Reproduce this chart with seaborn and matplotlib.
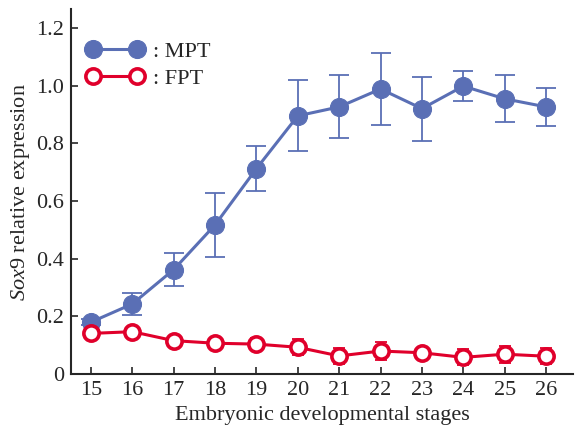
import pandas as pd
import seaborn as sns
import matplotlib
matplotlib.use("Agg")
import matplotlib.pyplot as plt

stages = [15, 16, 17, 18, 19, 20, 21, 22, 23, 24, 25, 26]
mpt_mean = [0.180, 0.243, 0.362, 0.517, 0.712, 0.895, 0.926, 0.988, 0.920, 0.998, 0.954, 0.926]
mpt_err = [0.010, 0.038, 0.056, 0.111, 0.079, 0.123, 0.109, 0.124, 0.111, 0.053, 0.082, 0.065]
fpt_mean = [0.141, 0.147, 0.116, 0.107, 0.104, 0.093, 0.063, 0.080, 0.074, 0.058, 0.069, 0.062]
fpt_err = [0.010, 0.010, 0.012, 0.010, 0.022, 0.028, 0.028, 0.031, 0.015, 0.028, 0.030, 0.028]

blue = "#5a6fb5"
red = "#e0002b"

df = pd.DataFrame({
    "stage": stages * 2,
    "value": mpt_mean + fpt_mean,
    "group": [": MPT"] * len(stages) + [": FPT"] * len(stages),
})

sns.set_style("ticks")
plt.rcParams["font.family"] = ["Liberation Serif", "DejaVu Serif"]
plt.rcParams["mathtext.fontset"] = "custom"
plt.rcParams["mathtext.it"] = "Liberation Serif:italic"
plt.rcParams["mathtext.rm"] = "Liberation Serif"

fig = plt.figure(figsize=(5.75, 4.32), dpi=100)
ax = fig.add_axes([0.1235, 0.134, 0.873, 0.845])

# error bars first, under the markers
ax.errorbar(stages, mpt_mean, yerr=mpt_err, fmt="none", ecolor=blue,
            elinewidth=1.3, capsize=7, capthick=1.3, zorder=1)
ax.errorbar(stages, fpt_mean, yerr=fpt_err, fmt="none", ecolor=red,
            elinewidth=1.3, capsize=4, capthick=1.3, zorder=1)

mpt = df[df["group"] == ": MPT"]
fpt = df[df["group"] == ": FPT"]
sns.lineplot(x="stage", y="value", data=mpt, ax=ax, color=blue, lw=2.2,
             marker="o", markersize=13, markerfacecolor=blue,
             markeredgecolor=blue, label=": MPT", zorder=3)
sns.lineplot(x="stage", y="value", data=fpt, ax=ax, color=red, lw=2.2,
             marker="o", markersize=11, markerfacecolor="white",
             markeredgecolor=red, markeredgewidth=2.6, label=": FPT", zorder=4)

ax.set_xlim(14.52, 26.65)
ax.set_ylim(0, 1.265)
ax.set_xticks(stages)
ax.set_yticks([0, 0.2, 0.4, 0.6, 0.8, 1.0, 1.2])
ax.set_yticklabels(["0", "0.2", "0.4", "0.6", "0.8", "1.0", "1.2"])
ax.tick_params(direction="in", length=5, width=1.2, labelsize=16, pad=5)
for s in ["top", "right"]:
    ax.spines[s].set_visible(False)
for s in ["left", "bottom"]:
    ax.spines[s].set_linewidth(1.5)

ax.set_xlabel("Embryonic developmental stages", fontsize=16, labelpad=4)
ax.set_ylabel(r"$\it{Sox9}$ relative expression", fontsize=16, labelpad=3)

ax.legend(loc="upper left", bbox_to_anchor=(0.0, 0.955), frameon=False,
          numpoints=2, handlelength=2.55, handletextpad=0.45, fontsize=16,
          labelspacing=0.3, borderaxespad=0.3)

fig.savefig("out.png", dpi=100)
